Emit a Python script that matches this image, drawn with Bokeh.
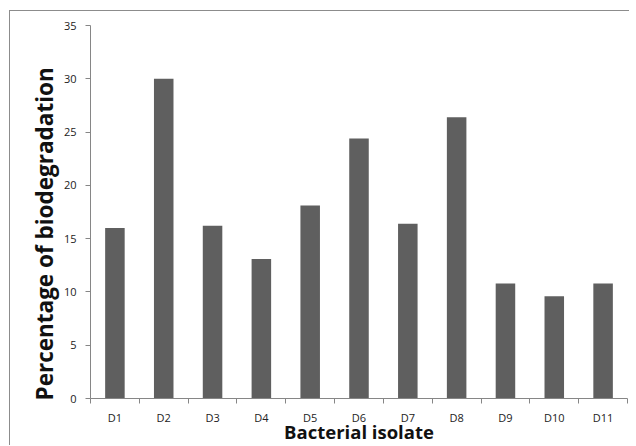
from bokeh.plotting import figure
from bokeh.models import ColumnDataSource, FixedTicker, Range1d, Title
from bokeh.embed import file_html
from bokeh.resources import INLINE

isolates = ["D1", "D2", "D3", "D4", "D5", "D6", "D7", "D8", "D9", "D10", "D11"]
biodegradation = [16.0, 30.0, 16.2, 13.1, 18.1, 24.4, 16.4, 26.4, 10.8, 9.6, 10.8]
y_ticks = [0, 5, 10, 15, 20, 25, 30, 35]
x_title = "Bacterial isolate"
y_title = "Percentage of biodegradation"

xpos = [i + 0.5 for i in range(len(isolates))]
src = ColumnDataSource(dict(x=xpos, top=biodegradation, name=isolates))

p = figure(width=620, height=435, output_backend="svg", toolbar_location=None,
           x_range=Range1d(0, len(isolates)), y_range=Range1d(0, y_ticks[-1]),
           min_border_left=80, min_border_right=3, min_border_top=14, min_border_bottom=48)
p.styles = {"margin-left": "9px", "margin-top": "10px",
            "border-left": "1px solid #8c8c8c", "border-top": "1px solid #8c8c8c"}
p.outline_line_color = None
p.grid.visible = False

p.vbar(x="x", top="top", width=0.4, bottom=0, source=src, fill_color="#5f5f5f", line_color=None)

font = "Open Sans"
ax = p.xaxis[0]
ax.ticker = FixedTicker(ticks=xpos, minor_ticks=list(range(len(isolates) + 1)))
ax.major_label_overrides = {x: n for x, n in zip(xpos, isolates)}
ax.major_tick_out = 0
ax.major_tick_in = 0
ax.minor_tick_out = 5
ax.minor_tick_in = 0
ax.minor_tick_line_color = "#868686"
ax.axis_line_color = "#868686"
ax.major_label_text_font = font
ax.major_label_text_font_size = "11px"
ax.major_label_text_color = "#222222"
ax.major_label_standoff = 6
ax.axis_label = x_title
ax.axis_label_text_font = font
ax.axis_label_text_font_style = "bold"
ax.axis_label_text_font_size = "18.5px"
ax.axis_label_text_color = "#111111"
ax.axis_label_standoff = -9

ay = p.yaxis[0]
ay.ticker = FixedTicker(ticks=y_ticks, minor_ticks=[])
ay.major_tick_out = 5
ay.major_tick_in = 0
ay.major_tick_line_color = "#868686"
ay.axis_line_color = "#868686"
ay.major_label_text_font = font
ay.major_label_text_font_size = "11px"
ay.major_label_text_color = "#222222"
ay.major_label_standoff = 9

# y title as a left-side title so it can sit a little below the frame's middle
ty = Title(text=y_title, align="left", offset=-2, standoff=2,
           text_font=font, text_font_style="bold", text_font_size="22.5px",
           text_color="#111111")
p.add_layout(ty, "left")

open("out.html", "w").write(file_html(p, INLINE))
